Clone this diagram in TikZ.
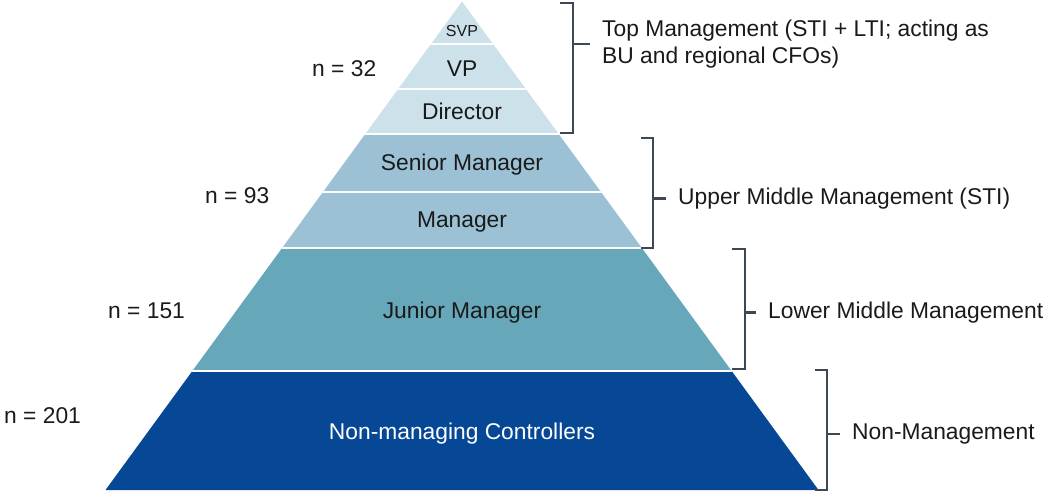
\documentclass[tikz,border=0pt]{standalone}
\usepackage{fontspec}
\setmainfont{Liberation Sans}
\definecolor{topblue}{HTML}{CCE1E9}
\definecolor{midblue}{HTML}{9DC1D4}
\definecolor{lowblue}{HTML}{67A7BA}
\definecolor{darkblue}{HTML}{064796}
\definecolor{bracegray}{HTML}{3C4854}
\definecolor{textgray}{HTML}{1A1A1A}

\begin{document}
\begin{tikzpicture}
[x=1bp,y=-1bp,every node/.style={inner sep=0pt,text=textgray,font=\fontsize{22.8bp}{27bp}\selectfont},
 level/.style={anchor=base},
 count/.style={anchor=base west},
 group/.style={anchor=base west,align=left},
 brace/.style={draw=bracegray,line width=2.4bp,line join=miter},
 tick/.style={draw=bracegray,line width=2.4bp,shorten >=12bp}]
\useasboundingbox (0,0) rectangle (1046,493);
% pyramid
\coordinate (apex) at (462,1.5);
\coordinate (bl) at (105.5,490);
\coordinate (br) at (818.5,490);
\begin{scope}
\clip (apex) -- (br) -- (bl) -- cycle;
\fill[topblue] (0,0) rectangle (1046,134);
\fill[midblue] (0,134) rectangle (1046,248);
\fill[lowblue] (0,248) rectangle (1046,371);
\fill[darkblue] (0,371) rectangle (1046,493);
\foreach \y in {44,89,134,192,248,371}
  \draw[white,line width=2bp] (0,\y) -- (1046,\y);
\end{scope}
% levels
\node[level,font=\fontsize{16bp}{18bp}\selectfont] (svp) at (462,37) {SVP};
\node[level] (vp) at (462,76.5) {VP};
\node[level] (dir) at (462,119.5) {Director};
\node[level] (senior) at (462,170.5) {Senior Manager};
\node[level] (mgr) at (462,227.5) {Manager};
\node[level] (junior) at (462,318.5) {Junior Manager};
\node[level,text=white] (nonmgr) at (462,439.5) {Non-managing Controllers};
% counts
\node[count] (n32) at (312,76.5) {n = 32};
\node[count] (n93) at (205,203.5) {n = 93};
\node[count] (n151) at (108,318.5) {n = 151};
\node[count] (n201) at (4,423.5) {n = 201};
% groups
\node[group] (topgrp) at (602,63.5) {Top Management (STI + LTI; acting as\\BU and regional CFOs)};
\node[group] (uppgrp) at (678,204.5) {Upper Middle Management (STI)};
\node[group] (lowgrp) at (768,318.5) {Lower Middle Management};
\node[group] (nongrp) at (852,439.5) {Non-Management};
% brackets
\coordinate (topA) at (573,3);
\coordinate (topB) at (573,133);
\coordinate (uppA) at (653,138);
\coordinate (uppB) at (653,248);
\coordinate (lowA) at (745,249);
\coordinate (lowB) at (745,369);
\coordinate (nonA) at (827,370);
\coordinate (nonB) at (827,490);
\draw[brace] (topA) ++(-13,0) -- (topA) -- (topB) -- ++(-13,0);
\draw[brace] (uppA) ++(-12,0) -- (uppA) -- (uppB) -- ++(-12,0);
\draw[brace] (lowA) ++(-13,0) -- (lowA) -- (lowB) -- ++(-13,0);
\draw[brace] (nonA) ++(-12,0) -- (nonA) -- (nonB) -- ++(-12,0);
\draw[tick] (topA |- topgrp.west) -- (topgrp.west);
\draw[tick] (uppA |- uppgrp.west) -- (uppgrp.west);
\draw[tick] (lowA |- lowgrp.west) -- (lowgrp.west);
\draw[tick] (nonA |- nongrp.west) -- (nongrp.west);
\end{tikzpicture}
\end{document}
